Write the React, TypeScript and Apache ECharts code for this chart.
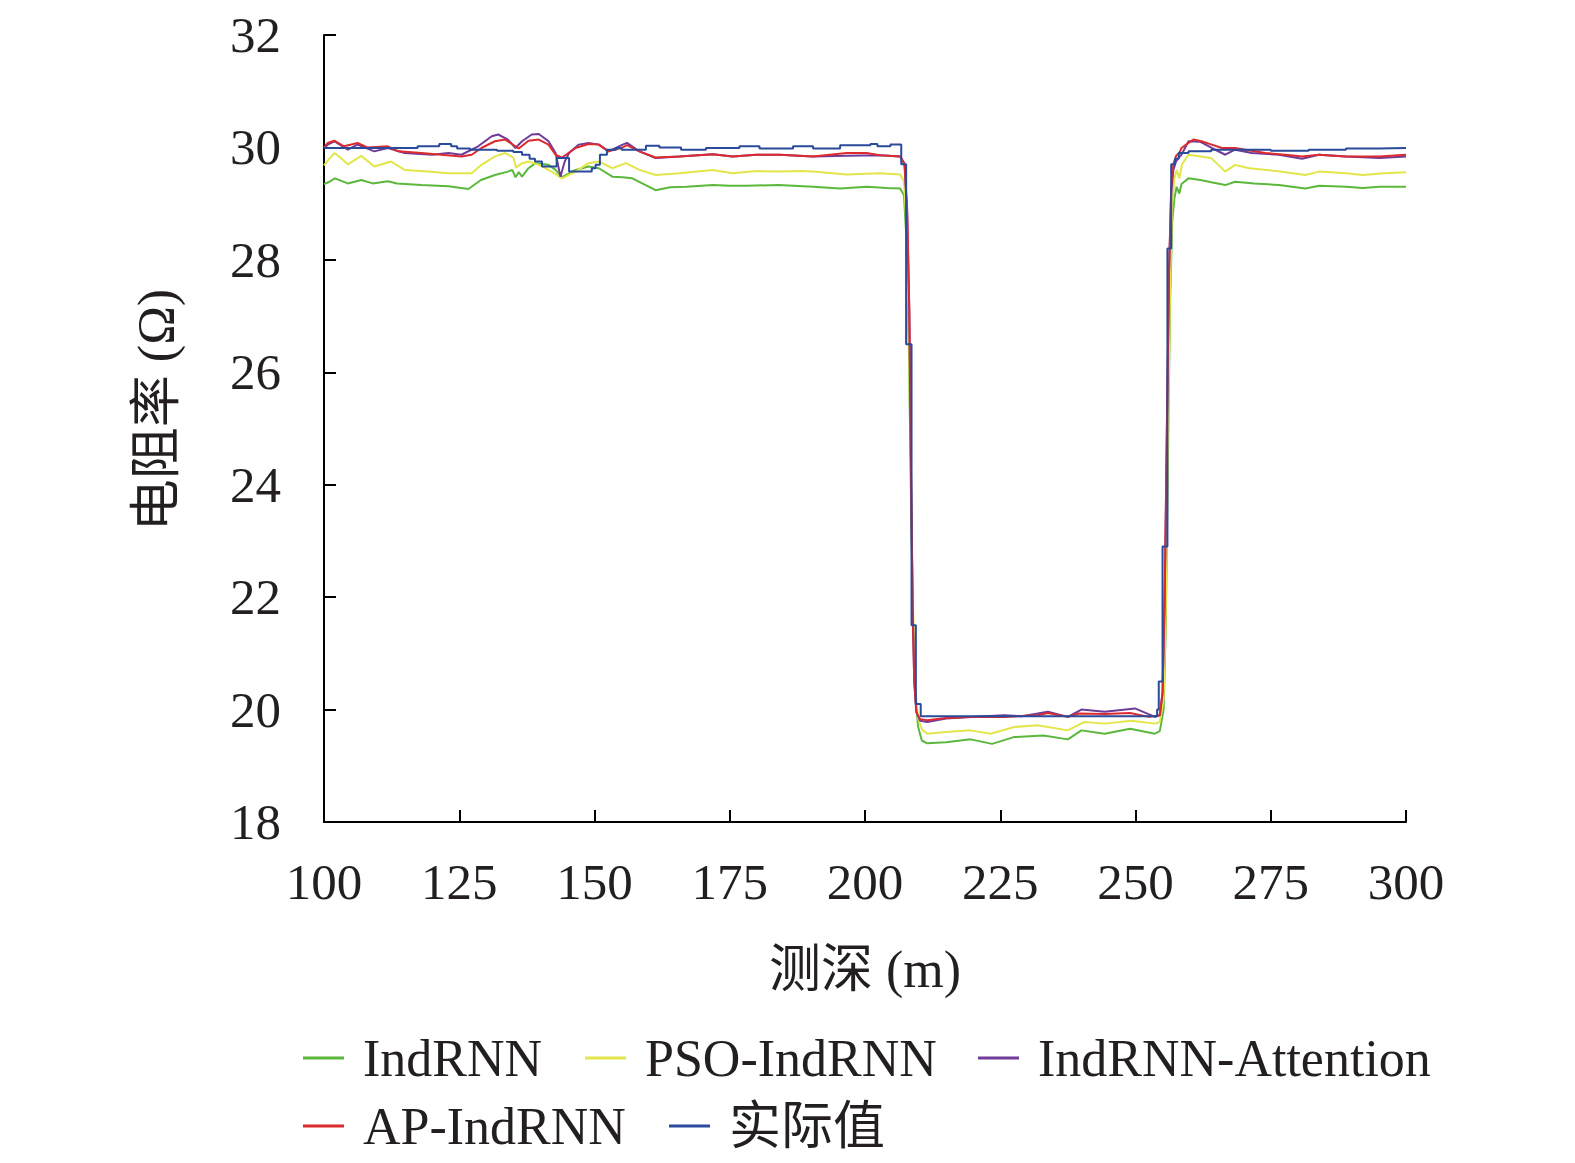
import React, { useEffect, useRef } from "react";
import * as echarts from "echarts";

const FONT = '"Liberation Serif", "Times New Roman", "Noto Sans CJK SC", serif';
const TXT = "#231f20";

const seriesNames = ["IndRNN", "PSO-IndRNN", "IndRNN-Attention", "AP-IndRNN", "实际值"];
const seriesColors = ["#5cb83c", "#e3e64a", "#6f3c9a", "#dc2a2f", "#2a4b9b"];

const xTitle = "测深 (m)";
const yTitle = "电阻率 (Ω)";

// [depth, resistivity]
const indRNN = [
  [100, 29.35], [100.8, 29.38], [102, 29.45], [104.4, 29.36], [106.9, 29.42], [109, 29.36],
  [111.8, 29.4], [113.5, 29.36], [118, 29.33], [123, 29.31], [126.7, 29.26], [129, 29.42],
  [131.6, 29.51], [134, 29.57], [134.8, 29.6], [135.4, 29.47], [136, 29.56], [136.6, 29.48],
  [137.8, 29.63], [139.1, 29.72], [141.5, 29.69], [142.8, 29.6], [144, 29.47], [146.5, 29.6],
  [148.9, 29.66], [150.8, 29.63], [153.3, 29.48], [155.2, 29.47], [157, 29.45], [159, 29.35],
  [161.3, 29.24], [164, 29.29], [167, 29.3], [171.9, 29.33], [175, 29.32], [178, 29.32],
  [184, 29.33], [190.4, 29.3], [195.4, 29.27], [200.3, 29.3], [204, 29.28], [206.5, 29.27],
  [207.2, 29.15], [207.7, 28.3], [208.1, 26.5], [208.5, 23.8], [208.9, 21.5], [209.3, 20.3],
  [209.8, 19.7], [210.5, 19.45], [211.5, 19.4], [215, 19.42], [219.5, 19.47], [223.5, 19.39],
  [227.5, 19.51], [233, 19.54], [237.5, 19.47], [240, 19.63], [244.3, 19.57], [249, 19.66],
  [253.6, 19.57], [254.5, 19.62], [255.2, 20.0], [255.6, 21.5], [256, 24.5], [256.4, 27.3],
  [256.8, 28.7], [257.2, 29.1], [257.6, 29.3], [258.1, 29.18], [258.5, 29.35], [259.8, 29.45],
  [262, 29.42], [264, 29.38], [266.6, 29.33], [268.4, 29.39], [272, 29.36], [276.5, 29.33],
  [281.4, 29.27], [284, 29.32], [288.9, 29.3], [292, 29.28], [295.1, 29.3], [300, 29.3],
];

const psoIndRNN = [
  [100, 29.68], [100.8, 29.78], [101.9, 29.9], [103, 29.82], [104.4, 29.7], [106.9, 29.85],
  [109.3, 29.66], [112.4, 29.75], [114.9, 29.6], [119.2, 29.57], [123, 29.54], [127.3, 29.54],
  [129.1, 29.69], [131.6, 29.84], [133.5, 29.9], [135, 29.82], [135.5, 29.64], [136.6, 29.72],
  [137.8, 29.75], [139.7, 29.69], [142.1, 29.57], [144, 29.45], [146.5, 29.57], [148.9, 29.72],
  [150.8, 29.75], [153.3, 29.63], [155.8, 29.72], [158.3, 29.6], [161.3, 29.51], [165.7, 29.54],
  [171.9, 29.6], [175.5, 29.54], [180, 29.58], [184.2, 29.57], [188, 29.58], [190.4, 29.57],
  [196.6, 29.52], [202.8, 29.54], [206.5, 29.52], [207.2, 29.4], [207.7, 28.6], [208.1, 26.8],
  [208.5, 24.0], [208.9, 21.7], [209.3, 20.4], [209.8, 19.85], [210.5, 19.65], [211.5, 19.57],
  [215, 19.6], [219.5, 19.63], [223.2, 19.57], [227.6, 19.69], [231.9, 19.72], [237.5, 19.63],
  [240.6, 19.78], [244.3, 19.75], [249.2, 19.8], [253.6, 19.75], [254.5, 19.78], [255.2, 20.2],
  [255.6, 21.8], [256, 24.8], [256.4, 27.6], [256.8, 29.0], [257.2, 29.45], [257.6, 29.6],
  [258.1, 29.45], [258.6, 29.7], [259.8, 29.87], [262, 29.84], [264, 29.81], [266.6, 29.57],
  [268.4, 29.69], [271, 29.63], [276, 29.58], [281.4, 29.51], [283.9, 29.57], [288.9, 29.54],
  [292, 29.51], [296, 29.54], [300, 29.56],
];

const attention = [
  [100, 29.98], [100.7, 30.05], [101.9, 30.11], [104.4, 29.96], [106.2, 30.05], [109.3, 29.93],
  [111.8, 29.99], [114.9, 29.9], [120, 29.87], [123, 29.9], [125.4, 29.87], [128.5, 30.02],
  [131, 30.2], [132.2, 30.23], [134, 30.14], [135.4, 29.99], [136.6, 30.11], [138.4, 30.23],
  [139.7, 30.24], [141.5, 30.11], [142.8, 29.9], [143.7, 29.48], [144.5, 29.75], [145.3, 29.9],
  [147.1, 30.05], [148.9, 30.08], [150.8, 30.05], [152.6, 29.93], [155.2, 30.05], [156, 30.08],
  [158.3, 29.93], [161.3, 29.81], [165.7, 29.84], [171.9, 29.88], [175.5, 29.84], [179.9, 29.87],
  [184.2, 29.87], [190.4, 29.84], [196.6, 29.85], [202.8, 29.86], [206.5, 29.84], [207.3, 29.7],
  [207.8, 28.8], [208.2, 27.0], [208.5, 24.2], [208.8, 21.8], [209.1, 20.5], [209.5, 19.95],
  [210.2, 19.8], [211.5, 19.78], [215, 19.84], [219.5, 19.87], [225.7, 19.9], [229, 19.88],
  [233.8, 19.96], [237.5, 19.87], [240, 20.0], [244.3, 19.96], [249.9, 20.02], [253.6, 19.87],
  [254.5, 19.9], [255, 20.3], [255.4, 22.0], [255.8, 25.0], [256.2, 27.8], [256.6, 29.2],
  [257, 29.6], [257.5, 29.75], [258, 29.82], [258.5, 29.87], [259.8, 30.11], [262, 30.1],
  [264.1, 29.99], [266.6, 29.87], [268.4, 29.96], [271.5, 29.9], [276.5, 29.87], [280.8, 29.8],
  [283.9, 29.87], [288.9, 29.84], [295.1, 29.81], [300, 29.84],
];

const apIndRNN = [
  [100, 30.0], [100.7, 30.08], [101.9, 30.12], [103.7, 30.02], [106.2, 30.08], [108, 30.0],
  [111.8, 30.02], [113.7, 29.93], [118, 29.9], [121.7, 29.87], [125.4, 29.84], [127.3, 29.87],
  [129.1, 29.99], [131.6, 30.11], [133.5, 30.14], [135.4, 30.02], [136, 29.98], [137.8, 30.12],
  [139.7, 30.14], [141.5, 30.05], [142.8, 29.87], [144, 29.82], [146.5, 29.99], [148.9, 30.06],
  [150.8, 30.05], [152.6, 29.93], [155.2, 30.0], [156, 30.04], [158.3, 29.93], [161.3, 29.82],
  [165.7, 29.84], [171.9, 29.88], [175.5, 29.84], [179.9, 29.87], [184.2, 29.87], [190.4, 29.84],
  [196.6, 29.9], [200.3, 29.9], [202.8, 29.86], [206.5, 29.84], [207.3, 29.72], [207.8, 28.9],
  [208.2, 27.1], [208.5, 24.3], [208.8, 21.9], [209.1, 20.5], [209.5, 19.95], [210.2, 19.83],
  [211.5, 19.81], [215, 19.85], [219.5, 19.87], [225.7, 19.87], [231.9, 19.9], [233.8, 19.94],
  [237.5, 19.87], [239.5, 19.93], [244.3, 19.92], [249, 19.94], [252.5, 19.87], [254.5, 19.9],
  [255, 20.3], [255.4, 22.0], [255.8, 25.0], [256.2, 27.8], [256.6, 29.3], [257, 29.7],
  [257.5, 29.85], [258.2, 29.92], [258.5, 29.99], [259.8, 30.08], [260.7, 30.14], [262.2, 30.11],
  [264.1, 30.05], [266, 29.99], [268.4, 29.99], [270.3, 29.96], [274, 29.9], [277.7, 29.87],
  [280.8, 29.84], [283.9, 29.87], [288.9, 29.84], [295.1, 29.84], [300, 29.87],
];

// measured values, held until the next depth (step)
const actual = [
  [100, 29.99], [117.3, 30.02], [121.3, 30.06], [123.5, 30.02], [124.6, 29.98], [127, 29.96],
  [132, 29.94], [135, 29.92], [136.6, 29.87], [138, 29.8], [139, 29.75], [140.3, 29.66],
  [143, 29.81], [145.3, 29.57], [149.5, 29.63], [150.2, 29.69], [151, 29.87], [152.3, 29.96],
  [154, 29.99], [155, 29.96], [159.5, 30.03], [162, 30.0], [166, 29.96], [170.6, 29.99],
  [176.8, 30.02], [180.5, 29.98], [186.7, 30.02], [190.4, 29.98], [195.4, 30.04], [201, 30.06],
  [202.3, 30.02], [204.7, 30.05], [206.7, 29.7], [207.6, 26.5], [208.6, 21.5], [209.4, 20.1],
  [210.3, 19.88], [254, 20.0], [254.3, 20.5], [255.0, 22.9], [255.9, 28.2], [256.6, 29.7],
  [257.3, 29.8], [258.0, 29.9], [259.8, 29.93], [264, 29.96], [275, 29.94], [282, 29.96],
  [288.9, 29.98], [295, 29.99], [300, 30.0],
];

const seriesData = [indRNN, psoIndRNN, attention, apIndRNN, actual];

const legendPos = [
  { left: 303, top: 1032 },
  { left: 585, top: 1032 },
  { left: 978, top: 1032 },
  { left: 303, top: 1100 },
  { left: 669, top: 1100 },
];

export default function App() {
  const ref = useRef<HTMLDivElement>(null);
  useEffect(() => {
    document.body.style.margin = "0";
    document.body.style.overflow = "hidden";
    document.documentElement.style.overflow = "hidden";
    const chart = echarts.init(ref.current!, null, { renderer: "svg" });
    const option: any = {
      animation: false,
      backgroundColor: "#ffffff",
      grid: { left: 324, top: 35, width: 1082, height: 787, containLabel: false },
      xAxis: {
        type: "value",
        min: 100,
        max: 300,
        interval: 25,
        axisLine: { show: true, onZero: false, lineStyle: { color: "#000", width: 2 } },
        axisTick: { show: true, inside: true, length: 12, lineStyle: { color: "#000", width: 2 } },
        axisLabel: { margin: 34, fontSize: 51, fontFamily: FONT, color: TXT },
        splitLine: { show: false },
      },
      yAxis: {
        type: "value",
        min: 18,
        max: 32,
        interval: 2,
        axisLine: { show: true, onZero: false, lineStyle: { color: "#000", width: 2 } },
        axisTick: { show: true, inside: true, length: 12, lineStyle: { color: "#000", width: 2 } },
        axisLabel: { margin: 43, fontSize: 51, fontFamily: FONT, color: TXT },
        splitLine: { show: false },
      },
      legend: seriesNames.map((n, i) => ({
        data: [n],
        left: legendPos[i].left,
        top: legendPos[i].top,
        padding: 0,
        icon: "rect",
        itemWidth: 41,
        itemHeight: 3,
        textStyle: { fontSize: 52, fontFamily: FONT, color: TXT, padding: [0, 0, 0, 14] },
      })),
      graphic: [
        {
          type: "text",
          x: 156,
          y: 410,
          rotation: Math.PI / 2,
          style: {
            text: yTitle,
            fontSize: 52,
            fontFamily: FONT,
            fill: TXT,
            align: "center",
            verticalAlign: "middle",
            textAlign: "center",
            textVerticalAlign: "middle",
          },
        },
        {
          type: "text",
          x: 865,
          y: 969,
          style: {
            text: xTitle,
            fontSize: 52,
            fontFamily: FONT,
            fill: TXT,
            align: "center",
            verticalAlign: "middle",
            textAlign: "center",
            textVerticalAlign: "middle",
          },
        },
      ],
      series: seriesNames.map((n, i) => ({
        name: n,
        type: "line",
        data: seriesData[i],
        step: i === 4 ? "end" : false,
        showSymbol: false,
        symbol: "none",
        smooth: false,
        color: seriesColors[i],
        lineStyle: { color: seriesColors[i], width: 2 },
        z: i === 4 ? 3 : 2,
      })),
    };
    chart.setOption(option);
    return () => chart.dispose();
  }, []);
  return (
    <div
      ref={ref}
      style={{ position: "fixed", left: 0, top: 0, width: 1575, height: 1163, background: "#fff" }}
    />
  );
}
